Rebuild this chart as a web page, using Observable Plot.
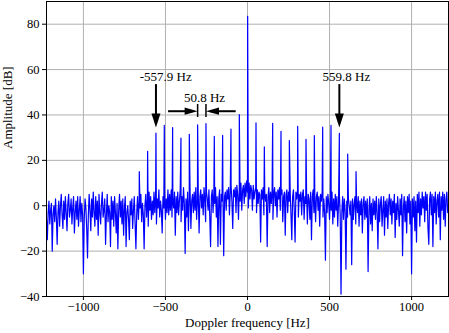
<!DOCTYPE html>
<html>
<head>
<meta charset="utf-8">
<script src="https://cdn.jsdelivr.net/npm/d3@7"></script>
<script src="https://cdn.jsdelivr.net/npm/@observablehq/plot@0.6"></script>
<style>
  html, body { margin: 0; padding: 0; background: #fff; }
  #chart { width: 449px; height: 333px; }
</style>
</head>
<body>
<div id="chart"></div>
<script>
// ---- Data ----
// Noise floor samples (dB) on a regular 5 Hz grid starting at -1225 Hz
const noiseStart = -1225;
const noiseStep = 5;
const noiseDb = [
  -6, -15, -3, 2, -8, -2, 1, -20, -4, 0,
  -7, 3, -5, -17, -3, 2, -9, 0, 5, -4,
  -10, 2, -6, 4, -3, -11, 1, 5, -5, -2,
  3, -8, -1, 4, -12, -3, 2, -6, 4, -9,
  -2, 4, -7, 1, -4, -30, -6, 3, -1, -10,
  -23, -4, 5, -2, -11, 3, -5, 6, -3, -9,
  4, -6, 2, -13, 5, -3, -8, 1, 6, -5,
  -2, 3, -17, -4, 5, -7, 0, -3, -18, 4,
  -6, 2, -9, 4, -3, -12, 1, -19, -2, 5,
  -5, 2, -8, 3, -13, -1, 4, -18, -3, 0,
  -6, -15, 2, -4, 3, -10, -2, 4, -8, -19,
  -3, 4, -6, 2, -1, 5, -7, 1, -4, -19,
  0, 5, -5, 3, -9, 6, -2, 4, -6, 2,
  -4, 6, -3, 5, -8, 3, -1, 7, -5, 2,
  -2, -12, 4, -1, 6, -6, 3, -3, 7, -4,
  5, -2, 7, -5, 3, -1, 6, -13, 4, -3,
  6, -4, 2, 7, -7, 4, -2, 8, 1, -21,
  3, -5, 6, -11, 4, 7, -10, 2, 5, -3,
  6, -2, 8, -6, 3, 5, -12, 4, 7, -1,
  5, -4, 8, 2, -7, 6, 3, -2, 7, -5,
  -18, 4, 7, -3, 6, 1, 8, -5, 4, -18,
  3, 7, -17, 5, 2, 8, -22, 4, 6, -2,
  7, 3, 8, -4, 6, 9, 2, -10, 7, 4,
  8, -3, 9, 5, -6, 8, 2, 10, -2, 7,
  9, 1, 10, 4, 11, 6, -1, 10, 3, 9,
  7, -2, 9, 3, 6, 8, -3, 7, 1, 6,
  5, -16, 7, 3, 8, -4, 6, 2, 5, -18,
  4, 8, -3, 6, 1, 7, -6, 5, 8, 0,
  6, -5, 7, 3, 8, -2, 5, 7, -7, 4,
  6, -13, 5, 7, -3, 6, 2, 7, -4, -15,
  4, 7, -2, -16, 6, 3, 7, -5, 5, 2,
  6, -4, 5, 7, -6, 4, 1, 6, -8, 5,
  3, -6, 6, -15, 4, 7, -3, 5, -7, 4,
  6, -2, 4, -9, 5, 2, 6, -5, 3, -3,
  -24, 4, -3, 5, 1, -6, 4, -2, 6, -8,
  3, -5, 5, -2, 4, -9, 2, 5, -4, -39,
  -3, 4, -6, 3, -2, -28, 2, -5, 3, 0,
  -4, 2, -26, 3, -6, 1, 4, -8, 2, -3,
  4, -9, 2, -4, 3, -12, 1, 4, -6, 2,
  -5, 3, -29, -2, 4, -8, 1, -11, 3, -4,
  2, -6, 4, -3, -19, 3, -7, 1, 4, -9,
  -2, 4, -13, 2, -5, 3, -10, 1, 5, -4,
  3, -8, 2, -3, 5, -14, 1, -6, 4, -2,
  -9, 3, -4, 5, -22, -1, 4, -7, 2, -12,
  4, -3, 5, -8, 2, -30, 3, -5, 4, -11,
  2, -16, 5, -3, 6, -9, 3, -4, 6, -1,
  4, -7, 6, -2, 5, -10, -17, 3, 6, -4,
  5, -18, 4, -3, 6, -8, 2, 5, -5, 6,
  -15, 4, -2, 6, -6, 5, -9, 3, 6, -3
];

// Spectral lines (Hz) and their amplitudes (dB)
const peakHz = [-659.5, -608.7, -557.9, -507.1, -456.3, -405.5, -354.7, -303.9, -253.1, -202.3, -151.5, -100.7, -49.9,
  0.9, 51.8, 102.6, 153.4, 204.2, 255.0, 305.8, 356.6, 407.4, 458.2, 509.0, 559.8, 610.6, 661.4];
const peakDb = [15, 24, 32, 35.4, 34.4, 29.8, 31.5, 35.6, 36.2, 30.6, 31.0, 33.8, 40.2,
  83.5, 36.5, 25.9, 36.3, 32.8, 28.7, 35.0, 29.3, 30.9, 34.6, 35.4, 31.9, 22.8, 15];

// Axis ticks
const xTicks = [-1000, -500, 0, 500, 1000];
const yTicks = [-40, -20, 0, 20, 40, 60, 80];

// Annotations
const annoText = ["-557.9 Hz", "559.8 Hz", "50.8 Hz"];
const annoTextHz = [-498, 603, -262];
const annoTextDb = [56.9, 56.9, 47.4];
const markerHz = [-557.9, 559.8];      // vertical arrows
const markerTopDb = 53.4;
const markerTipDb = 34.5;
const spacingHz = [-303.9, -253.1];    // spacing indicator
const spacingDb = 41.65;
const spacingBarDb = [38.9, 44.6];
const spacingTailHz = [-481, -69];

// ---- Build ----
const spectrum = [
  ...noiseDb.map((v, i) => ({f: noiseStart + i * noiseStep, db: v})),
  ...peakHz.map((f, i) => ({f, db: peakDb[i]}))
].sort((a, b) => a.f - b.f);

const headDown = {draw(c) { c.moveTo(0, 0); c.lineTo(-4.5, -14); c.lineTo(4.5, -14); c.closePath(); }};
const headRight = {draw(c) { c.moveTo(0, 0); c.lineTo(-13, -3.6); c.lineTo(-13, 3.6); c.closePath(); }};
const headLeft = {draw(c) { c.moveTo(0, 0); c.lineTo(13, -3.6); c.lineTo(13, 3.6); c.closePath(); }};

const annos = annoText.map((t, i) => ({t, x: annoTextHz[i], y: annoTextDb[i]}));
const vArrows = markerHz.map(f => ({f}));
const serif = "'Liberation Serif', 'Times New Roman', serif";
const fmt = d => String(d).replace("-", "\u2212");

const chart = Plot.plot({
  width: 449,
  height: 333,
  marginLeft: 46,
  marginRight: 1,
  marginTop: 1,
  marginBottom: 37,
  style: {fontFamily: serif, fontSize: "12.5px", background: "#fff", color: "#000"},
  x: {domain: [-1225, 1225], ticks: xTicks},
  y: {domain: [-40, 90], ticks: yTicks},
  marks: [
    Plot.gridX(xTicks, {stroke: "#b0b0b0", strokeOpacity: 1, strokeWidth: 1}),
    Plot.gridY(yTicks, {stroke: "#b0b0b0", strokeOpacity: 1, strokeWidth: 1}),
    Plot.line(spectrum, {x: "f", y: "db", stroke: "#0000ff", strokeWidth: 1.2, clip: true}),
    Plot.frame({stroke: "#000", strokeWidth: 1}),
    Plot.axisX(xTicks, {tickSize: 4, tickPadding: 2, label: null, fontSize: 12.5, tickFormat: fmt}),
    Plot.axisY(yTicks, {tickSize: 4, tickPadding: 3, label: null, fontSize: 12.5, tickFormat: fmt}),
    Plot.text(["Amplitude [dB]"], {frameAnchor: "left", dx: -39, rotate: -90, text: d => d, fontSize: 13}),
    Plot.text(["Doppler frequency [Hz]"], {frameAnchor: "bottom", dy: 30, text: d => d, fontSize: 13}),
    // annotation texts
    Plot.text(annos, {x: "x", y: "y", text: "t", fontSize: 13, fill: "#000"}),
    // vertical arrows
    Plot.ruleX(vArrows, {x: "f", y1: markerTopDb, y2: markerTipDb + 4, stroke: "#000", strokeWidth: 2}),
    Plot.dot(vArrows, {x: "f", y: markerTipDb, symbol: headDown, fill: "#000", stroke: "none"}),
    // spacing indicator
    Plot.ruleX(spacingHz, {x: d => d, y1: spacingBarDb[0], y2: spacingBarDb[1], stroke: "#000", strokeWidth: 1.5}),
    Plot.ruleY([0], {y: spacingDb, x1: spacingTailHz[0], x2: spacingHz[0] - 30, stroke: "#000", strokeWidth: 2}),
    Plot.ruleY([0], {y: spacingDb, x1: spacingTailHz[1], x2: spacingHz[1] + 30, stroke: "#000", strokeWidth: 2}),
    Plot.dot([0], {x: spacingHz[0], y: spacingDb, symbol: headRight, fill: "#000", stroke: "none"}),
    Plot.dot([0], {x: spacingHz[1], y: spacingDb, symbol: headLeft, fill: "#000", stroke: "none"})
  ]
});
document.getElementById("chart").appendChild(chart);
</script>
</body>
</html>
